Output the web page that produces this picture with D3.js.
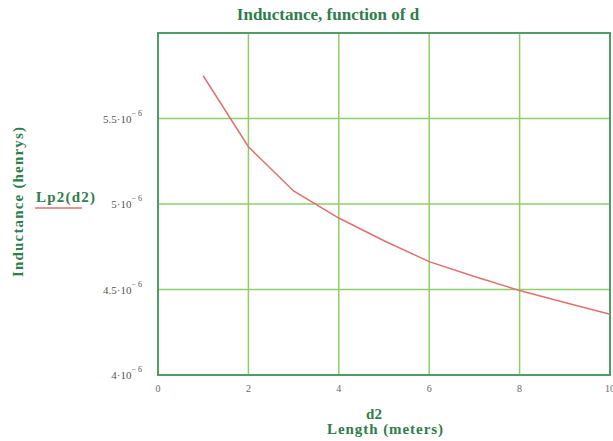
<!DOCTYPE html>
<html>
<head>
<meta charset="utf-8">
<script src="https://cdn.jsdelivr.net/npm/d3@7"></script>
<style>
  body { margin: 0; background: #fff; }
  svg { display: block; }
</style>
</head>
<body>
<div id="chart"></div>
<script>
// length d2 (meters) and inductance Lp2(d2) (henrys)
const d2 = [1, 2, 3, 4, 5, 6, 7, 8, 9, 10];
const Lp2 = [5.75e-6, 5.335e-6, 5.076e-6, 4.918e-6, 4.785e-6, 4.663e-6, 4.576e-6, 4.494e-6, 4.424e-6, 4.355e-6];
const xTicks = [0, 2, 4, 6, 8, 10];
const yTicks = [4e-6, 4.5e-6, 5e-6, 5.5e-6];
const yTickMant = ["4", "4.5", "5", "5.5"];

const W = 613, H = 441;
const margin = { top: 33, right: 3, bottom: 66, left: 158 },
    width = W - margin.left - margin.right,
    height = H - margin.top - margin.bottom;

const svg = d3.select("#chart").append("svg")
    .attr("width", W)
    .attr("height", H);

const g = svg.append("g")
    .attr("transform", `translate(${margin.left}, ${margin.top})`);

const x = d3.scaleLinear().domain([0, 10]).range([0, width]);
const y = d3.scaleLinear().domain([4e-6, 6e-6]).range([height, 0]);

const gridColor = "#8fcf6a";
const frameColor = "#4c9e62";
const textGreen = "#2f7d4a";
const serif = "Liberation Serif, serif";

// grid lines
g.append("g").selectAll("line")
    .data(xTicks.slice(1, -1))
    .join("line")
    .attr("x1", d => x(d)).attr("x2", d => x(d))
    .attr("y1", 0).attr("y2", height)
    .attr("stroke", gridColor).attr("stroke-width", 1.5);

g.append("g").selectAll("line")
    .data(yTicks.slice(1))
    .join("line")
    .attr("x1", 0).attr("x2", width)
    .attr("y1", d => y(d)).attr("y2", d => y(d))
    .attr("stroke", gridColor).attr("stroke-width", 1.5);

// frame
g.append("rect")
    .attr("width", width).attr("height", height)
    .attr("fill", "none")
    .attr("stroke", frameColor).attr("stroke-width", 2);

// x tick labels
g.append("g").selectAll("text")
    .data(xTicks)
    .join("text")
    .attr("x", d => x(d))
    .attr("y", height + 17)
    .attr("text-anchor", "middle")
    .attr("font-family", serif)
    .attr("font-size", 10)
    .attr("fill", "#666")
    .text(d => d);

// y tick labels like 5.5·10^-6
const yl = g.append("g").selectAll("text")
    .data(yTicks)
    .join("text")
    .attr("x", -16)
    .attr("y", d => y(d) + 4)
    .attr("text-anchor", "end")
    .attr("font-family", serif)
    .attr("font-size", 11)
    .attr("fill", "#555");
yl.append("tspan").text((d, i) => yTickMant[i] + "\u00b710");
yl.append("tspan")
    .attr("dy", -7)
    .attr("font-size", 8)
    .text("\u2212 6");

// curve
const valueLine = d3.line()
    .x((d, i) => x(d2[i]))
    .y(d => y(d));

g.append("path")
    .datum(Lp2)
    .attr("fill", "none")
    .attr("stroke", "#e0706e")
    .attr("stroke-width", 1.5)
    .attr("d", valueLine);

// title
svg.append("text")
    .attr("x", 328).attr("y", 20)
    .attr("text-anchor", "middle")
    .attr("font-family", serif)
    .attr("font-weight", "bold")
    .attr("font-size", 17)
    .attr("fill", textGreen)
    .text("Inductance, function of d");

// axis labels
svg.append("text")
    .attr("transform", "translate(23, 202) rotate(-90)")
    .attr("text-anchor", "middle")
    .attr("font-family", serif)
    .attr("font-weight", "bold")
    .attr("font-size", 15)
    .attr("fill", textGreen)
    .attr("textLength", 150)
    .text("Inductance (henrys)");

svg.append("text")
    .attr("x", 374).attr("y", 419)
    .attr("text-anchor", "middle")
    .attr("font-family", serif)
    .attr("font-weight", "bold")
    .attr("font-size", 15)
    .attr("fill", textGreen)
    .text("d2");

svg.append("text")
    .attr("x", 385).attr("y", 434)
    .attr("text-anchor", "middle")
    .attr("font-family", serif)
    .attr("font-weight", "bold")
    .attr("font-size", 15)
    .attr("fill", textGreen)
    .attr("textLength", 116)
    .text("Length (meters)");

// legend
svg.append("text")
    .attr("x", 36).attr("y", 202)
    .attr("font-family", serif)
    .attr("font-weight", "bold")
    .attr("font-size", 15)
    .attr("fill", textGreen)
    .attr("textLength", 59)
    .text("Lp2(d2)");

svg.append("line")
    .attr("x1", 35).attr("x2", 82)
    .attr("y1", 208).attr("y2", 208)
    .attr("stroke", "#e0706e").attr("stroke-width", 1.5);
</script>
</body>
</html>
